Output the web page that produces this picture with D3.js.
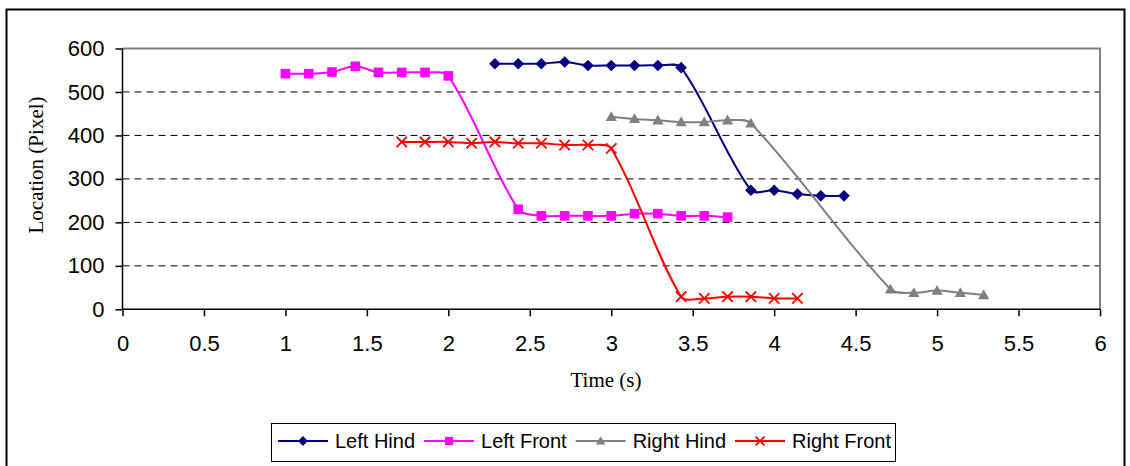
<!DOCTYPE html>
<html>
<head>
<meta charset="utf-8">
<script src="https://cdn.jsdelivr.net/npm/d3@7"></script>
<style>
  html, body { margin: 0; padding: 0; background: #fff; }
  svg { display: block; }
</style>
</head>
<body>
<svg id="chart" width="1130" height="466"></svg>
<script>
// ---- data ----
const xTicks = [0, 0.5, 1, 1.5, 2, 2.5, 3, 3.5, 4, 4.5, 5, 5.5, 6];
const yTicks = [0, 100, 200, 300, 400, 500, 600];
const seriesNames = ["Left Hind", "Left Front", "Right Hind", "Right Front"];

const leftHindTime = [2.286, 2.429, 2.571, 2.714, 2.857, 3.0, 3.143, 3.286, 3.429, 3.857, 4.0, 4.143, 4.286, 4.429];
const leftHindVal  = [565, 565, 565, 569, 561, 561, 561, 561, 556, 274, 274, 265, 261, 261];

const leftFrontTime = [1.0, 1.143, 1.286, 1.429, 1.571, 1.714, 1.857, 2.0, 2.429, 2.571, 2.714, 2.857, 3.0, 3.143, 3.286, 3.429, 3.571, 3.714];
const leftFrontVal  = [542, 542, 546, 559, 545, 545, 545, 537, 230, 215, 215, 215, 215, 220, 220, 215, 215, 212];

const rightHindTime = [3.0, 3.143, 3.286, 3.429, 3.571, 3.714, 3.857, 4.714, 4.857, 5.0, 5.143, 5.286];
const rightHindVal  = [443, 438, 435, 431, 431, 435, 428, 46, 38, 43, 38, 33];

const rightFrontTime = [1.714, 1.857, 2.0, 2.143, 2.286, 2.429, 2.571, 2.714, 2.857, 3.0, 3.429, 3.571, 3.714, 3.857, 4.0, 4.143];
const rightFrontVal  = [385, 385, 385, 382, 385, 382, 382, 378, 378, 370, 29, 25, 29, 29, 25, 25];

const colors = ["#000080", "#FF00FF", "#808080", "#FF0000"];
const symbols = ["diamond", "square", "triangle", "cross"];

const series = [
  { name: seriesNames[0], t: leftHindTime, v: leftHindVal },
  { name: seriesNames[1], t: leftFrontTime, v: leftFrontVal },
  { name: seriesNames[2], t: rightHindTime, v: rightHindVal },
  { name: seriesNames[3], t: rightFrontTime, v: rightFrontVal }
].map((s, i) => ({ ...s, color: colors[i], symbol: symbols[i],
  points: s.t.map((t, j) => ({ t, v: s.v[j] })) }));

// ---- layout ----
const svg = d3.select("#chart");
const plot = { left: 122.5, right: 1100, top: 48.5, bottom: 309.3 };
const x = d3.scaleLinear().domain([0, 6]).range([plot.left, plot.right]);
const y = d3.scaleLinear().domain([0, 600]).range([plot.bottom, plot.top]);

const SANS = "'Liberation Sans', Arial, sans-serif";
const SERIF = "'Liberation Serif', 'Times New Roman', serif";

// outer chart border
svg.append("rect").attr("x", 6.5).attr("y", 9.5).attr("width", 1118).attr("height", 470)
  .attr("fill", "#fff").attr("stroke", "#000").attr("stroke-width", 2);

// gridlines
svg.append("g").selectAll("line").data(yTicks.filter(d => d > 0 && d < 600)).join("line")
  .attr("x1", plot.left).attr("x2", plot.right)
  .attr("y1", d => y(d)).attr("y2", d => y(d))
  .attr("stroke", "#000").attr("stroke-width", 1).attr("stroke-dasharray", "7,5");

// plot-area border (top & right)
svg.append("path")
  .attr("d", `M${plot.left},${y(600)}H${plot.right}V${plot.bottom}`)
  .attr("fill", "none").attr("stroke", "#808080").attr("stroke-width", 2);

// axes
const xAxis = d3.axisBottom(x).tickValues(xTicks).tickSize(7).tickPadding(19)
  .tickFormat(d3.format("~g"));
const yAxis = d3.axisLeft(y).tickValues(yTicks).tickSize(7).tickPadding(11);

const gx = svg.append("g").attr("transform", `translate(0,${plot.bottom})`).call(xAxis);
const gy = svg.append("g").attr("transform", `translate(${plot.left},0)`).call(yAxis);
[gx, gy].forEach(g => {
  g.select(".domain").attr("stroke", "#000").attr("stroke-width", 1.5);
  g.selectAll(".tick line").attr("stroke", "#000").attr("stroke-width", 1.5);
  g.selectAll(".tick text").attr("font-family", SANS).attr("font-size", 22).attr("fill", "#000");
});
gx.select(".domain").attr("d", `M${plot.left},0H${plot.right}`);
gy.select(".domain").attr("d", `M0,${y(0)}V${y(600)}`);

// axis titles
svg.append("text").attr("x", 606).attr("y", 387)
  .attr("text-anchor", "middle").attr("font-family", SERIF).attr("font-size", 21)
  .text("Time (s)");
svg.append("text").attr("transform", "translate(43,165) rotate(-90)")
  .attr("text-anchor", "middle").attr("font-family", SERIF).attr("font-size", 21)
  .text("Location (Pixel)");

// markers
function drawMarker(g, sym, color, cx, cy, scale = 1) {
  if (sym === "diamond") {
    const r = 5.8 * scale;
    g.append("path").attr("d", `M${cx},${cy - r}L${cx + r},${cy}L${cx},${cy + r}L${cx - r},${cy}Z`)
      .attr("fill", color);
  } else if (sym === "square") {
    const r = 4.8 * scale;
    g.append("rect").attr("x", cx - r).attr("y", cy - r).attr("width", 2 * r).attr("height", 2 * r)
      .attr("fill", color);
  } else if (sym === "triangle") {
    const r = 5.6 * scale;
    g.append("path").attr("d", `M${cx},${cy - r}L${cx + r},${cy + r * 0.75}L${cx - r},${cy + r * 0.75}Z`)
      .attr("fill", color);
  } else {
    const r = 5.2 * scale;
    g.append("path").attr("d", `M${cx - r},${cy - r}L${cx + r},${cy + r}M${cx - r},${cy + r}L${cx + r},${cy - r}`)
      .attr("stroke", color).attr("stroke-width", 1.8).attr("fill", "none");
  }
}

// Excel-like smoothed line: tangent direction from neighbours,
// control-point distance proportional to each segment's own length.
function smoothPath(pts, k = 0.3) {
  const P = pts.map(p => [x(p.t), y(p.v)]);
  const n = P.length;
  const tan = P.map((p, i) => {
    const a = P[Math.max(0, i - 1)], b = P[Math.min(n - 1, i + 1)];
    const dx = b[0] - a[0], dy = b[1] - a[1];
    const L = Math.hypot(dx, dy) || 1;
    return [dx / L, dy / L];
  });
  const path = d3.path();
  path.moveTo(P[0][0], P[0][1]);
  for (let i = 0; i < n - 1; i++) {
    const d = Math.hypot(P[i + 1][0] - P[i][0], P[i + 1][1] - P[i][1]);
    path.bezierCurveTo(
      P[i][0] + tan[i][0] * d * k, P[i][1] + tan[i][1] * d * k,
      P[i + 1][0] - tan[i + 1][0] * d * k, P[i + 1][1] - tan[i + 1][1] * d * k,
      P[i + 1][0], P[i + 1][1]);
  }
  return path.toString();
}

series.forEach(s => {
  const g = svg.append("g");
  g.append("path").attr("d", smoothPath(s.points))
    .attr("fill", "none").attr("stroke", s.color).attr("stroke-width", 2);
  s.points.forEach(p => drawMarker(g, s.symbol, s.color, x(p.t), y(p.v)));
});

// legend
const lg = svg.append("g");
lg.append("rect").attr("x", 271.5).attr("y", 423.5).attr("width", 624).attr("height", 38)
  .attr("fill", "#fff").attr("stroke", "#000").attr("stroke-width", 1);
let lx = 278;
const ly = 441;
series.forEach(s => {
  lg.append("line").attr("x1", lx).attr("x2", lx + 50).attr("y1", ly).attr("y2", ly)
    .attr("stroke", s.color).attr("stroke-width", 2);
  drawMarker(lg, s.symbol, s.color, lx + 25, ly, 0.85);
  const t = lg.append("text").attr("x", lx + 57).attr("y", ly + 7)
    .attr("font-family", SANS).attr("font-size", 20).text(s.name);
  lx += 57 + t.node().getComputedTextLength() + 9;
});
</script>
</body>
</html>
